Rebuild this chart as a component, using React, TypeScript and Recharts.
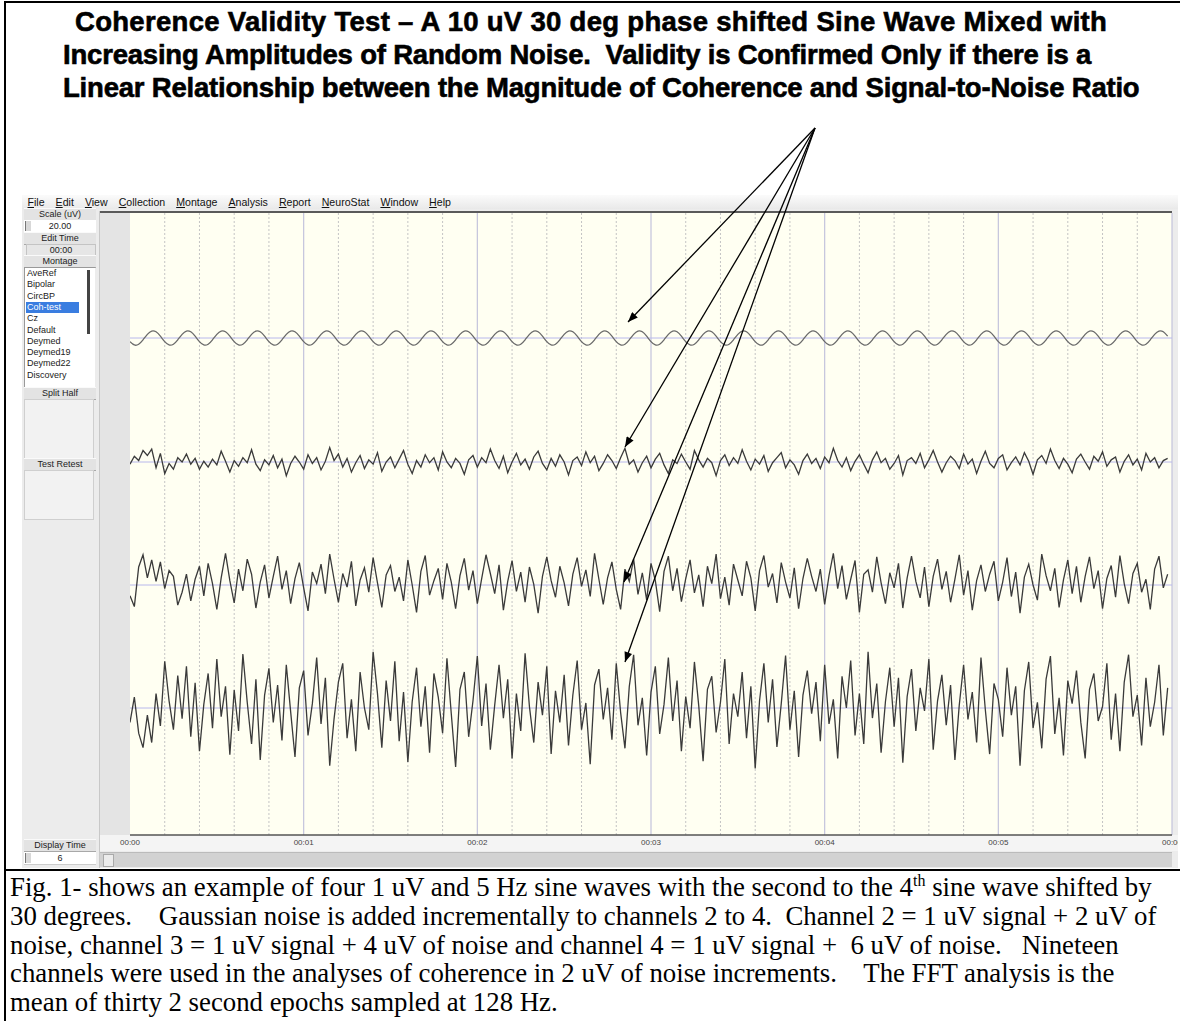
import React from "react";
import { CartesianGrid, Line, LineChart, ReferenceLine, XAxis, YAxis } from "recharts";

// 6 s of EEG-style traces, 40 samples per second, values in uV
const SAMPLE_RATE = 40;
const CHANNELS = ["F3-LE", "C3-LE", "P3-LE", "O1-LE"];
const SECOND_TICKS = [0, 1, 2, 3, 4, 5, 6];
const SUB_TICKS = [
  0.2, 0.4, 0.6, 0.8, 1.2, 1.4, 1.6, 1.8, 2.2, 2.4, 2.6, 2.8,
  3.2, 3.4, 3.6, 3.8, 4.2, 4.4, 4.6, 4.8, 5.2, 5.4, 5.6, 5.8,
];

const F3 = [
  -0.5, -0.97, -0.86, -0.25, 0.5, 0.97, 0.86, 0.25, -0.5, -0.97, -0.86, -0.25, 0.5, 0.97, 0.86, 0.25, -0.5, -0.97, -0.86, -0.25,
  0.5, 0.97, 0.86, 0.25, -0.5, -0.97, -0.86, -0.25, 0.5, 0.97, 0.86, 0.25, -0.5, -0.97, -0.86, -0.25, 0.5, 0.97, 0.86, 0.25,
  -0.5, -0.97, -0.86, -0.25, 0.5, 0.97, 0.86, 0.25, -0.5, -0.97, -0.86, -0.25, 0.5, 0.97, 0.86, 0.25, -0.5, -0.97, -0.86, -0.25,
  0.5, 0.97, 0.86, 0.25, -0.5, -0.97, -0.86, -0.25, 0.5, 0.97, 0.86, 0.25, -0.5, -0.97, -0.86, -0.25, 0.5, 0.97, 0.86, 0.25,
  -0.5, -0.97, -0.86, -0.25, 0.5, 0.97, 0.86, 0.25, -0.5, -0.97, -0.86, -0.25, 0.5, 0.97, 0.86, 0.25, -0.5, -0.97, -0.86, -0.25,
  0.5, 0.97, 0.86, 0.25, -0.5, -0.97, -0.86, -0.25, 0.5, 0.97, 0.86, 0.25, -0.5, -0.97, -0.86, -0.25, 0.5, 0.97, 0.86, 0.25,
  -0.5, -0.97, -0.86, -0.25, 0.5, 0.97, 0.86, 0.25, -0.5, -0.97, -0.86, -0.25, 0.5, 0.97, 0.86, 0.25, -0.5, -0.97, -0.86, -0.25,
  0.5, 0.97, 0.86, 0.25, -0.5, -0.97, -0.86, -0.25, 0.5, 0.97, 0.86, 0.25, -0.5, -0.97, -0.86, -0.25, 0.5, 0.97, 0.86, 0.25,
  -0.5, -0.97, -0.86, -0.25, 0.5, 0.97, 0.86, 0.25, -0.5, -0.97, -0.86, -0.25, 0.5, 0.97, 0.86, 0.25, -0.5, -0.97, -0.86, -0.25,
  0.5, 0.97, 0.86, 0.25, -0.5, -0.97, -0.86, -0.25, 0.5, 0.97, 0.86, 0.25, -0.5, -0.97, -0.86, -0.25, 0.5, 0.97, 0.86, 0.25,
  -0.5, -0.97, -0.86, -0.25, 0.5, 0.97, 0.86, 0.25, -0.5, -0.97, -0.86, -0.25, 0.5, 0.97, 0.86, 0.25, -0.5, -0.97, -0.86, -0.25,
  0.5, 0.97, 0.86, 0.25, -0.5, -0.97, -0.86, -0.25, 0.5, 0.97, 0.86, 0.25, -0.5, -0.97, -0.86, -0.25, 0.5, 0.97, 0.86, 0.25,
];

const C3 = [
  -0.3, 0.8, 0.2, 1.6, 0.9, 1.8, -0.8, 1.2, -1.6, -0.2, -1.0, 0.6, 0.0, 1.1, -0.3, 0.5, -1.0, 0.1, -0.7, 0.4,
  -0.4, 1.5, 0.1, -1.4, 0.2, -0.6, 0.6, -0.1, 1.7, -0.3, -1.2, 0.3, -0.4, 0.9, -0.8, 0.4, -1.9, -0.2, 0.8, 0.0,
  -1.0, 1.0, -0.2, 0.6, -1.1, 0.1, 2.0, 0.2, 1.1, -0.7, 0.5, -1.4, -0.1, 0.9, -0.9, 0.3, -0.3, 1.3, -1.3, 0.0,
  0.7, -0.8, 0.4, 1.6, -0.3, -1.6, 0.2, -0.7, 1.0, -0.1, 0.6, -1.1, 1.4, 0.0, -0.8, 0.5, -0.2, -1.7, 0.3, 0.9,
  -0.7, 0.6, -0.1, 1.8, 0.2, -0.9, 0.8, -1.5, 0.0, 1.2, -0.4, 0.4, -1.0, 0.7, 1.5, -0.2, -1.1, 0.5, -0.6, 1.0,
  0.0, -1.8, 0.2, 0.7, -0.5, 1.4, -0.1, 0.8, -1.2, -0.2, 1.0, 0.2, -0.9, 0.6, 1.9, -0.3, 0.3, -1.4, -0.1, 0.8,
  -0.8, 0.4, 1.2, -0.4, -1.6, 0.3, -0.2, 1.1, 0.0, -1.0, 1.6, 0.3, -0.7, 0.5, -0.1, -1.9, 0.2, 1.0, -0.5, 0.6,
  -0.2, 1.7, 0.1, -1.1, 0.4, -0.3, 0.9, -1.3, -0.1, 0.6, 1.3, -0.8, 0.3, -0.4, -1.7, 0.2, 1.1, -0.2, 0.5, -0.9,
  0.7, -0.1, 1.9, 0.2, -0.7, 0.6, -1.2, 0.1, 1.0, -0.3, -1.5, 0.3, 1.4, -0.1, 0.5, -1.0, -0.2, 0.9, -1.8, 0.2,
  0.6, -0.2, 1.2, -0.8, 0.3, 1.6, 0.0, -1.4, -0.1, 0.8, 0.2, -0.9, 1.1, -0.3, 0.4, -1.6, 0.1, 1.5, -0.2, -0.8,
  0.5, 1.0, -1.1, -0.1, 0.7, -0.4, 1.3, 0.1, -1.7, 0.3, 0.9, -0.2, 1.8, 0.2, -0.9, 0.5, -0.3, -1.5, 0.4, 1.1,
  0.0, -1.0, 0.8, 0.1, 1.4, -0.6, 0.3, 0.7, -1.4, 0.1, 1.0, -0.4, 0.4, -1.1, 1.2, 0.0, 0.6, -0.8, 0.2, 0.5,
];

const P3 = [
  -1.5, -3.0, 2.5, 4.2, 1.0, 3.5, 0.5, 3.2, -0.5, 2.0, 1.2, -2.8, -1.0, 1.5, -2.2, 0.8, 2.6, -1.5, 3.0, 0.2,
  -3.4, 1.0, 4.4, 0.6, -2.5, 2.2, -0.8, 3.6, 1.5, -3.2, 0.4, 2.8, -1.8, 1.2, 4.0, -0.6, 2.0, -2.6, 0.9, 3.1,
  -0.4, -3.6, 1.8, 0.2, 2.9, -1.2, 4.3, 0.8, -2.4, 1.6, -0.3, 3.3, -2.9, 0.7, 2.4, -1.0, 3.8, 0.3, -3.1, 1.4,
  2.7, -0.9, 1.1, -2.2, 3.5, 0.0, -3.8, 1.9, 4.1, -1.4, 0.6, 2.3, -2.0, 3.0, 0.4, -3.3, 1.3, 3.7, -0.7, 2.0,
  -2.6, 0.9, 4.2, 1.6, -1.2, 2.8, -3.5, 0.5, 3.4, -0.9, 1.8, -2.4, 2.5, 0.1, -3.9, 1.2, 3.9, 0.6, -1.7, 2.6,
  0.3, -2.9, 1.5, 3.8, -0.2, 2.1, -1.6, 4.4, 0.8, -2.7, 1.0, 3.2, -0.6, -3.4, 2.2, 0.5, 3.6, -1.3, 1.7, -2.1,
  3.0, 0.6, -3.7, 1.9, 4.0, -0.8, 2.3, -2.3, 0.9, 3.5, -1.1, 1.4, -3.0, 2.6, 0.2, 4.3, -1.9, 1.1, -2.8, 2.9,
  0.7, -1.5, 3.3, 1.0, -3.6, 2.0, 4.1, -0.3, 1.6, -2.5, 3.1, 0.4, -1.8, 2.4, -3.3, 0.9, 3.7, 1.2, -0.9, 2.2,
  -2.7, 1.3, 4.4, -0.5, 2.7, -2.0, 0.8, 3.4, -3.8, 1.5, 2.1, -1.0, 3.9, 0.3, -2.6, 1.7, -0.4, 3.0, -3.2, 1.0,
  4.0, 0.5, -1.8, 2.5, -3.0, 1.2, 3.6, -0.6, 1.9, -2.4, 0.8, 4.2, -1.4, 2.0, -3.5, 0.6, 2.8, -0.9, 1.5, 3.3,
  -2.2, 0.4, 3.8, -1.6, 1.8, -3.9, 1.1, 2.9, 0.0, -2.1, 4.3, 1.3, -0.8, 2.3, -3.1, 0.7, 3.5, -1.2, 2.6, -2.4,
  1.2, 3.9, -0.5, 2.0, -3.3, 0.9, 2.7, -1.7, 4.1, 0.2, -2.6, 1.6, 3.0, -1.0, 0.8, -3.4, 2.2, 4.0, -0.4, 1.5,
];

const O1 = [
  -2.0, 1.5, -3.5, -5.5, -1.0, -4.8, 2.0, -2.5, 6.5, 1.0, -3.0, 4.5, -1.5, 5.8, -4.0, 3.5, -6.0, 0.5, 4.8, -2.8,
  6.8, -1.2, 3.0, -6.5, 2.5, -3.2, 7.5, 0.8, -5.0, 4.0, -7.2, 1.8, 5.5, -2.0, 3.2, -4.5, 6.0, -0.5, -6.8, 2.8,
  5.2, -3.8, 0.6, 7.0, -2.2, 4.2, -8.0, -1.5, 3.6, 6.2, -4.2, 1.2, -6.0, 5.0, 0.0, -3.0, 7.8, 2.0, -5.5, 3.8,
  -1.8, 6.5, -4.6, 2.2, -7.5, 0.9, 5.6, -2.6, 3.0, -6.2, 4.8, 1.5, -3.5, 6.9, -0.8, -8.2, 2.6, 5.0, -4.0, 1.0,
  7.2, -2.5, 3.4, -5.8, 0.4, 6.0, -1.4, 4.0, -7.0, 2.0, -3.2, 7.6, 0.2, -4.8, 3.6, -1.0, 5.8, -6.4, 2.4, -2.0,
  4.6, -5.2, 1.8, 6.6, -3.0, 0.7, -7.8, 3.2, 5.4, -1.6, 2.8, -4.4, 6.2, -0.6, -5.6, 3.0, 7.4, -2.4, 1.4, -6.6,
  2.2, 5.8, -3.6, 0.5, 7.0, -1.8, 3.8, -6.0, 1.6, -2.8, 6.4, 0.3, -7.4, 2.6, 4.4, -3.4, 0.8, 6.8, -5.0, 2.0,
  -1.2, 5.0, -4.2, 3.0, -8.4, 1.0, 6.2, -2.0, 4.0, -5.4, 0.6, 7.3, -3.0, 2.4, -6.8, 1.8, 5.2, -0.8, 3.6, -4.6,
  6.0, -2.2, 1.2, -7.0, 4.4, 0.0, 6.6, -3.8, 2.0, -5.0, 7.8, -1.4, 3.4, -6.2, 0.9, 5.6, -2.6, 4.2, -7.6, 1.6,
  5.4, -3.2, 2.8, -0.4, 6.8, -5.8, 1.0, 4.6, -2.4, 3.2, -7.2, 0.4, 6.0, -1.6, 2.2, -4.8, 7.0, -0.2, -6.4, 3.4,
  1.2, -4.0, 5.6, -1.0, 3.0, -8.0, 2.4, 6.4, -2.8, 0.8, -5.6, 4.0, 7.2, -3.6, 1.4, -6.6, 3.8, 0.6, 5.2, -2.0,
  -7.0, 2.6, 4.8, -1.8, 0.2, 6.2, -4.4, 2.0, -6.0, 3.6, 7.4, -1.2, 1.8, -5.2, 4.2, -2.6, 0.8, 6.0, -3.8, 2.8,
];

const MENU_ITEMS = ["File", "Edit", "View", "Collection", "Montage", "Analysis", "Report", "NeuroStat", "Window", "Help"];
const MONTAGES = ["AveRef", "Bipolar", "CircBP", "Coh-test", "Cz", "Default", "Deymed", "Deymed19", "Deymed22", "Discovery"];

const TITLE_LINES = [
  "Coherence Validity Test \u2013 A 10 uV 30 deg phase shifted Sine Wave Mixed with",
  "Increasing Amplitudes of Random Noise.  Validity is Confirmed Only if there is a",
  "Linear Relationship between the Magnitude of Coherence and Signal-to-Noise Ratio",
];

// layout
const PLOT_H = 622;
const PX_PER_UV = 7.2;
const BASELINES = [125, 249, 372, 495]; // px from plot top for each channel's zero line
const ARROW_FROM = [815, 128];
const ARROW_TO = [
  [628, 322],
  [625, 447],
  [624, 582],
  [625, 662],
];

const rows = F3.map((v, i) => ({ t: i / SAMPLE_RATE, f3: v, c3: C3[i], p3: P3[i], o1: O1[i] }));
const keys = ["f3", "c3", "p3", "o1"];
const domainFor = (b: number) => [-(PLOT_H - b) / PX_PER_UV, b / PX_PER_UV];

const ui = "'Liberation Sans', Arial, sans-serif";

function Header({ top, text }: { top: number; text: string }) {
  return (
    <div
      style={{
        position: "absolute", left: 24, top, width: 72, height: 11,
        background: "#e3e3e3", borderBottom: "1px solid #a8a8a8", borderTop: "1px solid #fafafa",
        fontSize: 9, lineHeight: "11px", textAlign: "center", color: "#222",
      }}
    >
      {text}
    </div>
  );
}

function Spinner({ top, text }: { top: number; text: string }) {
  return (
    <div style={{ position: "absolute", left: 24, top, width: 72, height: 12, background: "#fff", borderBottom: "1px solid #ccc" }}>
      <div style={{ position: "absolute", left: 1, top: 1, width: 5, height: 10, background: "#d8d8d8", borderLeft: "1px solid #777" }} />
      <div style={{ position: "absolute", left: 0, width: 72, top: 0, fontSize: 9, lineHeight: "12px", textAlign: "center", color: "#222" }}>
        {text}
      </div>
    </div>
  );
}

export default function App() {
  return (
    <div style={{ position: "relative", width: 1180, height: 1021, background: "#fff", overflow: "hidden", fontFamily: ui }}>
      <style>{"body{margin:0}"}</style>

      {/* frame */}
      <div style={{ position: "absolute", left: 4, top: 1, width: 1176, height: 2, background: "#000" }} />
      <div style={{ position: "absolute", left: 4, top: 1, width: 2, height: 1020, background: "#000" }} />
      <div style={{ position: "absolute", left: 4, top: 869, width: 1176, height: 2, background: "#000" }} />

      {/* title */}
      {TITLE_LINES.map((line, i) => (
        <div
          key={i}
          style={{
            position: "absolute", left: i === 0 ? 75 : 63, top: 6 + i * 33, whiteSpace: "pre",
            fontFamily: ui, fontWeight: 700, fontSize: 27.5, lineHeight: "32px", color: "#000",
            WebkitTextStroke: "0.6px #000", letterSpacing: i === 0 ? 0.3 : -0.2,
          }}
        >
          {line}
        </div>
      ))}

      {/* application window */}
      <div style={{ position: "absolute", left: 22, top: 195, width: 1156, height: 673, background: "#ececec" }} />
      <div
        style={{
          position: "absolute", left: 22, top: 195, width: 1156, height: 14,
          background: "linear-gradient(#fbfbfb, #e9e9e9)", display: "flex", alignItems: "center",
          fontSize: 10.6, color: "#111",
        }}
      >
        {MENU_ITEMS.map((m) => (
          <span key={m} style={{ marginLeft: 5.5, marginRight: 5.5 }}>
            <span style={{ textDecoration: "underline" }}>{m[0]}</span>
            {m.slice(1)}
          </span>
        ))}
      </div>

      {/* left control panel */}
      <Header top={208} text="Scale (uV)" />
      <Spinner top={220} text="20.00" />
      <Header top={232} text="Edit Time" />
      <div style={{ position: "absolute", left: 26, top: 244, width: 68, height: 10, background: "#e6e6e6", border: "1px solid #c4c4c4", fontSize: 9, lineHeight: "10px", textAlign: "center", color: "#222" }}>
        00:00
      </div>
      <Header top={255} text="Montage" />
      <div style={{ position: "absolute", left: 24, top: 267, width: 70, height: 119, background: "#fff", borderLeft: "1px solid #999", borderTop: "1px solid #999" }}>
        {MONTAGES.map((m, i) => (
          <div
            key={m}
            style={{
              position: "absolute", left: 1, top: i * 11.3, width: 52, height: 11,
              fontSize: 9, lineHeight: "11px", paddingLeft: 1,
              background: m === "Coh-test" ? "#3a7de0" : "transparent",
              color: m === "Coh-test" ? "#fff" : "#222",
            }}
          >
            {m}
          </div>
        ))}
        <div style={{ position: "absolute", left: 62, top: 2, width: 3, height: 64, background: "#444" }} />
      </div>
      <Header top={387} text="Split Half" />
      <div style={{ position: "absolute", left: 24, top: 399, width: 68, height: 58, background: "#f2f2f2", border: "1px solid #cfcfcf" }} />
      <Header top={458} text="Test Retest" />
      <div style={{ position: "absolute", left: 24, top: 470, width: 68, height: 48, background: "#f2f2f2", border: "1px solid #cfcfcf" }} />
      <Header top={839} text="Display Time" />
      <Spinner top={852} text="6" />

      {/* channel label column, axis strip and scroll bar */}
      <div style={{ position: "absolute", left: 99, top: 211, width: 1, height: 657, background: "#c8c8c8" }} />
      <div style={{ position: "absolute", left: 100, top: 213, width: 30, height: 622, background: "#e4e4e4" }} />
      <div style={{ position: "absolute", left: 100, top: 835, width: 1078, height: 16, background: "#f4f4f4" }} />
      <div style={{ position: "absolute", left: 100, top: 852, width: 1072, height: 14, background: "#d2d2d2", borderTop: "1px solid #bbb" }}>
        <div style={{ position: "absolute", left: 3, top: 1, width: 9, height: 11, background: "#ececec", border: "1px solid #aaa" }} />
      </div>
      <div style={{ position: "absolute", left: 100, top: 211, width: 1072, height: 2, background: "#5a5a5a" }} />

      {/* chart */}
      <div style={{ position: "absolute", left: 100, top: 213, width: 1078, height: 638, overflow: "hidden" }}>
        <LineChart width={1078} height={638} data={rows} margin={{ top: 0, right: 6, bottom: 0, left: 30 }}>
          <CartesianGrid fill="#fffff2" stroke="none" horizontal={false} vertical={false} yAxisId="ch0" />
          <XAxis
            dataKey="t"
            type="number"
            domain={[0, 6]}
            ticks={SECOND_TICKS}
            allowDataOverflow
            height={16}
            tickLine={false}
            tickSize={0}
            tickMargin={4}
            axisLine={{ stroke: "#555", strokeWidth: 1.5 }}
            tick={{ fontSize: 8, fill: "#444", fontFamily: ui }}
            tickFormatter={(v: number) => `00:0${v}`}
            interval={0}
          />
          {CHANNELS.map((name, i) => (
            <YAxis
              key={name}
              yAxisId={`ch${i}`}
              type="number"
              domain={domainFor(BASELINES[i])}
              allowDataOverflow
              ticks={[0]}
              tickFormatter={() => name}
              width={0}
              tickSize={0}
              tickMargin={3}
              tickLine={false}
              axisLine={i === 0 ? { stroke: "#555", strokeWidth: 1.5 } : false}
              tick={{ fontSize: 7.5, fill: "#333", fontFamily: ui }}
            />
          ))}
          {SUB_TICKS.map((x) => (
            <ReferenceLine key={`s${x}`} x={x} yAxisId="ch0" stroke="#c4c4c4" strokeDasharray="2 2" />
          ))}
          {SECOND_TICKS.slice(1).map((x) => (
            <ReferenceLine key={`m${x}`} x={x} yAxisId="ch0" stroke="#c3c3dc" strokeWidth={1.2} />
          ))}
          {CHANNELS.map((name, i) => (
            <ReferenceLine key={`b${name}`} y={0} yAxisId={`ch${i}`} stroke="#b8b8ec" />
          ))}
          {keys.map((k, i) => (
            <Line
              key={k}
              yAxisId={`ch${i}`}
              dataKey={k}
              type={i === 0 ? "natural" : "linear"}
              stroke={i === 0 ? "#6a6a6a" : "#3a3a3a"}
              strokeWidth={1.3}
              dot={false}
              isAnimationActive={false}
            />
          ))}
        </LineChart>
      </div>

      {/* annotation arrows */}
      <svg width={1180} height={1021} style={{ position: "absolute", left: 0, top: 0, pointerEvents: "none" }}>
        <defs>
          <marker id="ah" viewBox="0 0 10 8" refX={10} refY={4} markerWidth={11} markerHeight={8} markerUnits="userSpaceOnUse" orient="auto">
            <path d="M0,0 L10,4 L0,8 z" fill="#000" />
          </marker>
        </defs>
        {ARROW_TO.map(([x, y], i) => (
          <line key={i} x1={ARROW_FROM[0]} y1={ARROW_FROM[1]} x2={x} y2={y} stroke="#000" strokeWidth={1.3} markerEnd="url(#ah)" />
        ))}
      </svg>

      {/* caption */}
      <div
        style={{
          position: "absolute", left: 10, top: 873, whiteSpace: "pre", color: "#000",
          fontFamily: "'Liberation Serif', 'Times New Roman', serif", fontSize: 26.8, lineHeight: "28.8px",
        }}
      >
        {"Fig. 1- shows an example of four 1 uV and 5 Hz sine waves with the second to the 4"}
        <sup style={{ fontSize: 16, lineHeight: 0, verticalAlign: "10px" }}>th</sup>
        {" sine wave shifted by\n"}
        {"30 degrees.    Gaussian noise is added incrementally to channels 2 to 4.  Channel 2 = 1 uV signal + 2 uV of\n"}
        {"noise, channel 3 = 1 uV signal + 4 uV of noise and channel 4 = 1 uV signal +  6 uV of noise.   Nineteen\n"}
        {"channels were used in the analyses of coherence in 2 uV of noise increments.    The FFT analysis is the\n"}
        {"mean of thirty 2 second epochs sampled at 128 Hz."}
      </div>
    </div>
  );
}
